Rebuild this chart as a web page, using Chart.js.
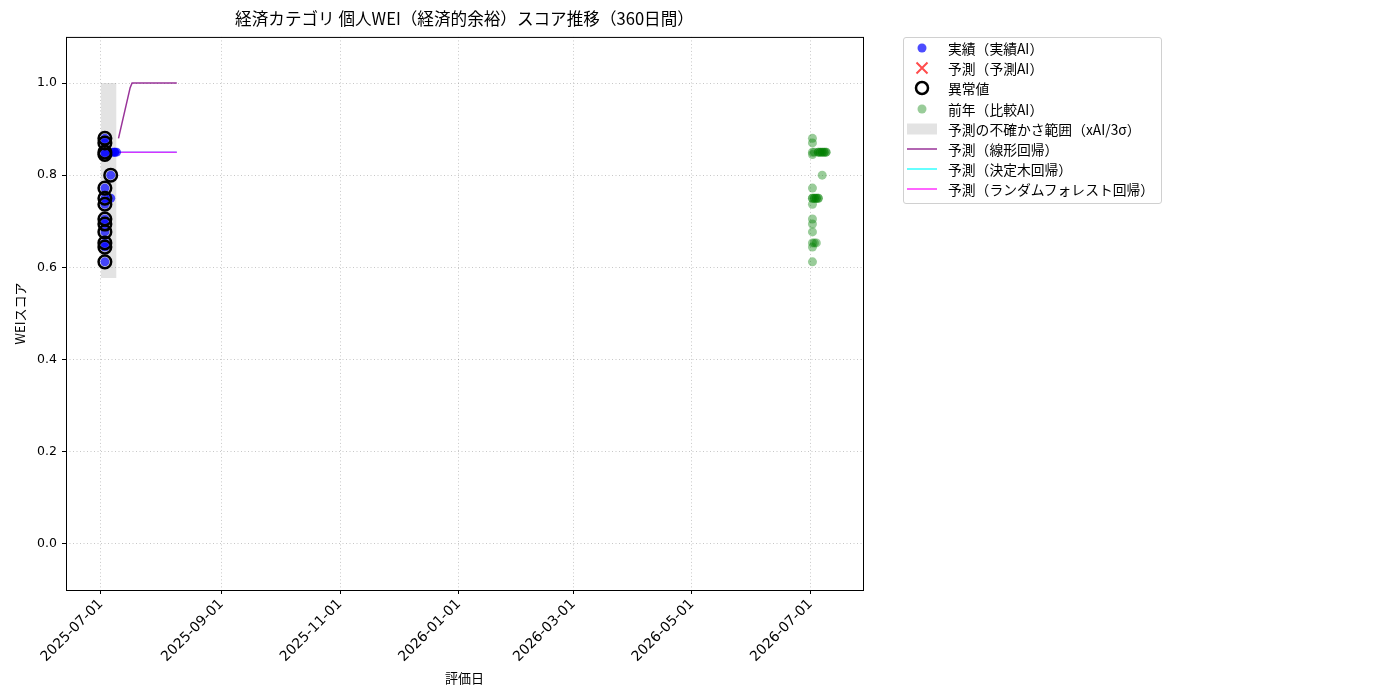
<!DOCTYPE html>
<html lang="ja">
<head>
<meta charset="utf-8">
<title>経済カテゴリ 個人WEI（経済的余裕）スコア推移（360日間）</title>
<script src="https://cdn.jsdelivr.net/npm/chart.js@4.4.1/dist/chart.umd.min.js"></script>
<style>
  html, body { margin: 0; padding: 0; background: #fff; }
  #wrap { position: relative; width: 1400px; height: 700px; }
  #legend {
    position: absolute; left: 903px; top: 37px; width: 250px;
    padding: 0 4px 3px 3px; border: 1px solid #d0d0d0; border-radius: 3px;
    font-family: "Noto Sans CJK JP", "Noto Sans", sans-serif; font-size: 13.8px; color: #000;
    background: #fff;
  }
  #legend .row { display: flex; align-items: center; height: 20.2px; white-space: nowrap; }
  #legend svg { flex: none; width: 30px; height: 20px; margin-right: 11px; }
</style>
</head>
<body>
<div id="wrap">
  <canvas id="chart" width="1400" height="700"></canvas>
  <div id="legend"></div>
</div>
<script>
const FONT = '"Noto Sans CJK JP", "Noto Sans", sans-serif';
const TICK_FONT = '"DejaVu Sans", "Noto Sans", sans-serif';

// 実績（実績AI）
const actualDates = [
  "2025-07-03", "2025-07-03", "2025-07-03", "2025-07-03", "2025-07-03", "2025-07-03", "2025-07-03",
  "2025-07-03", "2025-07-03", "2025-07-03", "2025-07-03", "2025-07-03", "2025-07-03",
  "2025-07-06", "2025-07-06", "2025-07-07", "2025-07-08", "2025-07-08", "2025-07-09",
];
const actualValues = [
  0.88, 0.87, 0.85, 0.845, 0.772, 0.75, 0.737,
  0.705, 0.694, 0.677, 0.653, 0.644, 0.612,
  0.80, 0.75, 0.85, 0.85, 0.85, 0.85,
];

// 予測（予測AI） — nothing plotted in the reference
const predDates = [];
const predValues = [];

// 異常値
const outlierDates = [
  "2025-07-03", "2025-07-03", "2025-07-03", "2025-07-03", "2025-07-06", "2025-07-03", "2025-07-03",
  "2025-07-03", "2025-07-03", "2025-07-03", "2025-07-03", "2025-07-03", "2025-07-03", "2025-07-03",
];
const outlierValues = [
  0.88, 0.87, 0.85, 0.845, 0.80, 0.772, 0.75,
  0.737, 0.705, 0.694, 0.677, 0.653, 0.644, 0.612,
];

// 前年（比較AI）
const prevDates = [
  "2026-07-02", "2026-07-02", "2026-07-02", "2026-07-02", "2026-07-02", "2026-07-02", "2026-07-02",
  "2026-07-02", "2026-07-02", "2026-07-02", "2026-07-02", "2026-07-02", "2026-07-02",
  "2026-07-03", "2026-07-03", "2026-07-04", "2026-07-07",
  "2026-07-05", "2026-07-05", "2026-07-06", "2026-07-06", "2026-07-07", "2026-07-07",
  "2026-07-08", "2026-07-08", "2026-07-09", "2026-07-09",
  "2026-07-02", "2026-07-03", "2026-07-03", "2026-07-04", "2026-07-04", "2026-07-05", "2026-07-05",
];
const prevValues = [
  0.88, 0.87, 0.85, 0.845, 0.772, 0.75, 0.737,
  0.705, 0.694, 0.677, 0.653, 0.644, 0.612,
  0.85, 0.653, 0.653, 0.80,
  0.85, 0.85, 0.85, 0.85, 0.85, 0.85,
  0.85, 0.85, 0.85, 0.85,
  0.75, 0.75, 0.75, 0.75, 0.75, 0.75, 0.75,
];

// 予測の不確かさ範囲（xAI/3σ）
const bandDates = ["2025-07-01", "2025-07-09"];
const bandUpper = [1.0, 1.0];
const bandLower = [0.577, 0.577];

// 予測（線形回帰）
const linearDates = ["2025-07-10", "2025-07-16", "2025-07-17", "2025-08-09"];
const linearValues = [0.88, 0.99, 1.0, 1.0];

// 予測（決定木回帰）
const treeDates = ["2025-07-10", "2025-08-09"];
const treeValues = [0.85, 0.85];

// 予測（ランダムフォレスト回帰）
const forestDates = ["2025-07-10", "2025-08-09"];
const forestValues = [0.85, 0.85];

const xTickDates = ["2025-07-01", "2025-09-01", "2025-11-01", "2026-01-01", "2026-03-01", "2026-05-01", "2026-07-01"];
const yTicks = [0.0, 0.2, 0.4, 0.6, 0.8, 1.0];

const day = (s) => Date.parse(s + "T00:00:00Z");
const pts = (dates, values) => dates.map((d, i) => ({ x: day(d), y: values[i] }));

// matplotlib-style closed frame around the plot
const frame = {
  id: "frame",
  afterDraw(chart) {
    const { ctx, chartArea: a } = chart;
    ctx.save();
    ctx.strokeStyle = "#000";
    ctx.lineWidth = 1;
    ctx.strokeRect(a.left + 0.5, a.top + 0.5, a.right - a.left, a.bottom - a.top);
    ctx.restore();
  },
};

const grid = {
  color: "rgba(0,0,0,0.22)",
  drawTicks: true,
  tickLength: 4,
  tickColor: "#000",
  tickWidth: 1,
  tickBorderDash: [],
};

const chart = new Chart(document.getElementById("chart"), {
  type: "scatter",
  data: {
    datasets: [
      {
        label: "実績（実績AI）", data: pts(actualDates, actualValues),
        backgroundColor: "rgba(0,0,255,0.7)", borderWidth: 0, pointRadius: 4.5, order: 3,
      },
      {
        label: "予測（予測AI）", data: pts(predDates, predValues), pointStyle: "crossRot",
        borderColor: "rgba(255,0,0,0.7)", borderWidth: 2, pointRadius: 7, order: 2,
      },
      {
        label: "異常値", data: pts(outlierDates, outlierValues),
        backgroundColor: "transparent", borderColor: "#000", borderWidth: 2.5, pointRadius: 6.3, order: 1,
      },
      {
        label: "前年（比較AI）", data: pts(prevDates, prevValues),
        backgroundColor: "rgba(0,128,0,0.4)", borderWidth: 0, pointRadius: 4.5, order: 4,
      },
      {
        label: "予測の不確かさ範囲（xAI/3σ）", data: pts(bandDates, bandUpper), showLine: true,
        borderColor: "transparent", borderWidth: 0, pointRadius: 0,
        backgroundColor: "rgba(128,128,128,0.22)", fill: "+1", order: 9,
      },
      {
        label: "", data: pts(bandDates, bandLower), showLine: true,
        borderColor: "transparent", borderWidth: 0, pointRadius: 0, order: 9,
      },
      {
        label: "予測（線形回帰）", data: pts(linearDates, linearValues), showLine: true,
        borderColor: "rgba(128,0,128,0.8)", borderWidth: 1.5, pointRadius: 0, order: 6,
      },
      {
        label: "予測（決定木回帰）", data: pts(treeDates, treeValues), showLine: true,
        borderColor: "rgba(0,255,255,0.8)", borderWidth: 1.5, pointRadius: 0, order: 6,
      },
      {
        label: "予測（ランダムフォレスト回帰）", data: pts(forestDates, forestValues), showLine: true,
        borderColor: "rgba(255,0,255,0.8)", borderWidth: 1.5, pointRadius: 0, order: 5,
      },
    ],
  },
  options: {
    responsive: false,
    animation: false,
    layout: { padding: { top: 0, left: 0, right: 537, bottom: 0 } },
    scales: {
      x: {
        type: "linear",
        min: day("2025-06-13"),
        max: day("2026-07-28"),
        afterBuildTicks: (s) => { s.ticks = xTickDates.map((d) => ({ value: day(d) })); },
        afterFit: (s) => { s.height = 110; },
        ticks: {
          autoSkip: false, minRotation: 45, maxRotation: 45, padding: 2,
          color: "#000", font: { family: TICK_FONT, size: 14 },
          callback: (v) => new Date(v).toISOString().slice(0, 10),
        },
        grid,
        border: { display: false, dash: [1, 2.5] },
        title: {
          display: true, text: "評価日", color: "#000",
          font: { family: FONT, size: 13 }, padding: { top: 2, bottom: 14 },
        },
      },
      y: {
        min: -0.1,
        max: 1.1,
        afterBuildTicks: (s) => { s.ticks = yTicks.map((v) => ({ value: v })); },
        afterFit: (s) => { s.width = 66; },
        ticks: {
          padding: 5, color: "#000", font: { family: TICK_FONT, size: 12.5 },
          callback: (v) => v.toFixed(1),
        },
        grid,
        border: { display: false, dash: [1, 2.5] },
        title: {
          display: true, text: "WEIスコア", color: "#000",
          font: { family: FONT, size: 13 }, padding: { top: 12, bottom: 4 },
        },
      },
    },
    plugins: {
      legend: { display: false },
      tooltip: { enabled: false },
      title: {
        display: true, fullSize: false, color: "#000",
        text: "経済カテゴリ 個人WEI（経済的余裕）スコア推移（360日間）",
        font: { family: FONT, size: 16.6, weight: "normal" },
        padding: { top: 9, bottom: 8 },
      },
    },
  },
  plugins: [frame],
});

// HTML legend built from the chart's own datasets
function markerSvg(ds) {
  if (ds.fill) {
    return `<rect x="0" y="4.5" width="30" height="11" fill="${ds.backgroundColor}"/>`;
  }
  if (ds.showLine) {
    return `<line x1="0" y1="10" x2="30" y2="10" stroke="${ds.borderColor}" stroke-width="1.5"/>`;
  }
  if (ds.pointStyle === "crossRot") {
    return `<path d="M9.5 4.5 L20.5 15.5 M20.5 4.5 L9.5 15.5" stroke="${ds.borderColor}" stroke-width="2"/>`;
  }
  if (ds.borderWidth) {
    return `<circle cx="15" cy="10" r="6" fill="none" stroke="${ds.borderColor}" stroke-width="2.5"/>`;
  }
  return `<circle cx="15" cy="10" r="4.5" fill="${ds.backgroundColor}"/>`;
}

document.getElementById("legend").innerHTML = chart.data.datasets
  .filter((ds) => ds.label)
  .map((ds) => `<div class="row"><svg viewBox="0 0 30 20">${markerSvg(ds)}</svg><span>${ds.label}</span></div>`)
  .join("");
</script>
</body>
</html>
